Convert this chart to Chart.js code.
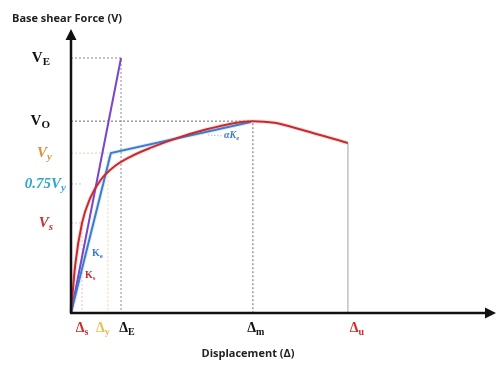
<!DOCTYPE html>
<html lang="en">
<head>
<meta charset="UTF-8">
<title>Base shear vs displacement</title>
<script src="https://cdn.jsdelivr.net/npm/chart.js"></script>
<style>
    body { margin: 0; background: #fff; }
    #wrap { width: 497px; height: 365px; }
</style>
</head>
<body>
<div id="wrap"><canvas id="pushover" width="497" height="365"></canvas></div>
<script>
// force levels: V_E, V_O, V_y, 0.75V_y, V_s
const forceMain   = ['V', 'V', 'V', '0.75V', 'V'];
const forceSubs   = ['E', 'O', 'y', 'y', 's'];
const forceLevels = [90.1, 67.8, 56.5, 45.6, 31.8];

// displacement levels: Δs, Δy, ΔE, Δm, Δu
const dispSubs   = ['s', 'y', 'E', 'm', 'u'];
const dispLevels = [2.6, 8.7, 11.8, 42.9, 65.3];

// capacity curve
const curveDisp  = [0, 1, 2.6, 4.5, 7, 10, 14, 19, 25, 32, 38, 42.9, 48, 55, 65.3];
const curveForce = [0, 17, 31.8, 40.5, 47, 51.5, 55.2, 58.5, 61.8, 64.9, 67, 67.8, 67.2, 64.5, 60.1];

// idealised bilinear curve
const bilinDisp  = [0, 9.4, 42.4];
const bilinForce = [0, 56.5, 67.5];

// elastic response line
const elasticDisp  = [0, 11.8];
const elasticForce = [0, 90.1];

const pts = (xs, ys) => xs.map((v, i) => ({ x: v, y: ys[i] }));

const RED = '#c92a2c', BLUE = '#3b7ccc', PURPLE = '#7a45c8';

function line(data, color, width, extra) {
    return Object.assign({
        data, borderColor: color, borderWidth: width, pointRadius: 0,
        showLine: true, fill: false, clip: false
    }, extra || {});
}

const [dS, dY, dE, dM, dU] = dispLevels;
const [vE, vO, vY, v75, vS] = forceLevels;

// dotted guide lines
const guides = [
    line([{x: 0, y: vE}, {x: dE, y: vE}, {x: dE, y: 0}], '#8a8a8a', 1, {borderDash: [2, 2]}),
    line([{x: 0, y: vO}, {x: dM, y: vO}, {x: dM, y: 0}], '#6a6a6a', 1, {borderDash: [2, 2]}),
    line([{x: 0, y: vY}, {x: dY, y: vY}, {x: dY, y: 0}], '#f0cfa8', 1, {borderDash: [2, 2]}),
    line([{x: 0, y: v75}, {x: dS, y: v75}], '#a8d4e4', 1, {borderDash: [2, 2]}),
    line([{x: 0, y: vS}, {x: dS, y: vS}, {x: dS, y: 0}], '#f0bcbc', 1, {borderDash: [2, 2]}),
    line([{x: dU, y: curveForce[curveForce.length - 1]}, {x: dU, y: 0}], '#c8c8c8', 1)
];

const datasets = [
    line(pts(curveDisp, curveForce), RED, 2, {cubicInterpolationMode: 'monotone'}),
    line(pts(bilinDisp, bilinForce), BLUE, 2),
    line(pts(elasticDisp, elasticForce), PURPLE, 2),
    // soft halo under the curves
    line(pts(curveDisp, curveForce), 'rgba(240,150,150,0.3)', 4, {cubicInterpolationMode: 'monotone'}),
    line(pts(bilinDisp, bilinForce), 'rgba(150,190,240,0.3)', 4),
    ...guides
];

function subText(ctx, main, sub, x, y, size, style, color, align) {
    ctx.fillStyle = color;
    ctx.textBaseline = 'middle';
    ctx.textAlign = 'left';
    const f1 = style + ' ' + size + 'px "Liberation Serif"';
    const f2 = style + ' ' + Math.round(size * 0.7) + 'px "Liberation Serif"';
    ctx.font = f1;
    const w1 = ctx.measureText(main).width;
    ctx.font = f2;
    const w2 = ctx.measureText(sub).width;
    let x0 = x;
    if (align === 'right') x0 = x - w1 - w2;
    if (align === 'center') x0 = x - (w1 + w2) / 2;
    ctx.font = f1;
    ctx.fillText(main, x0, y);
    ctx.font = f2;
    ctx.fillText(sub, x0 + w1, y + size * 0.3);
}

const annot = {
    id: 'annot',
    afterDraw(chart) {
        const { ctx, chartArea: a, scales: { x, y } } = chart;
        ctx.save();

        // axes with arrow heads
        ctx.strokeStyle = '#111';
        ctx.fillStyle = '#111';
        ctx.lineWidth = 2.5;
        ctx.beginPath();
        ctx.moveTo(a.left, a.bottom); ctx.lineTo(a.left, a.top + 8);
        ctx.moveTo(a.left - 1, a.bottom); ctx.lineTo(a.right - 8, a.bottom);
        ctx.stroke();
        ctx.beginPath();
        ctx.moveTo(a.left, a.top - 1); ctx.lineTo(a.left - 5.5, a.top + 10); ctx.lineTo(a.left + 5.5, a.top + 10); ctx.closePath();
        ctx.moveTo(a.right + 1, a.bottom); ctx.lineTo(a.right - 10, a.bottom - 5.5); ctx.lineTo(a.right - 10, a.bottom + 5.5); ctx.closePath();
        ctx.fill();

        // axis titles
        ctx.fillStyle = '#222';
        ctx.font = 'bold 11px "Open Sans"';
        ctx.textBaseline = 'middle';
        ctx.textAlign = 'left';
        ctx.fillText('Base shear Force (V)', 12, 19);
        ctx.textAlign = 'center';
        ctx.fillText('Displacement (\u0394)', 248, 354);

        // force level labels
        const fColors = ['#111', '#111', '#d8923a', '#2ea6d0', '#d02c2c'];
        const fStyle  = ['bold', 'bold', 'italic bold', 'italic bold', 'italic bold'];
        const fRight  = [50, 50, 52, 66, 53];
        forceLevels.forEach((v, i) => {
            subText(ctx, forceMain[i], forceSubs[i], fRight[i], y.getPixelForValue(v), 15, fStyle[i], fColors[i], 'right');
        });

        // displacement level labels
        const dColors = ['#d02c2c', '#e8bf5a', '#111', '#111', '#d02c2c'];
        const dShift  = [0, -5, 6, 3, 9];
        dispLevels.forEach((v, i) => {
            subText(ctx, '\u0394', dispSubs[i], x.getPixelForValue(v) + dShift[i], 328, 14, 'bold', dColors[i], 'center');
        });

        // stiffness labels
        subText(ctx, 'K', 'e', 92, 253, 10, 'bold', BLUE, 'left');
        subText(ctx, 'K', 's', 85, 275, 10, 'bold', RED, 'left');
        ctx.strokeStyle = 'rgba(120,170,230,0.7)';
        ctx.lineWidth = 1;
        ctx.setLineDash([1.5, 1.5]);
        ctx.beginPath();
        ctx.moveTo(208, 135); ctx.lineTo(223, 136);
        ctx.stroke();
        subText(ctx, '\u03b1K', 'e', 224, 135, 10, 'italic bold', BLUE, 'left');

        ctx.restore();
    }
};

new Chart(document.getElementById('pushover'), {
    type: 'scatter',
    data: { datasets },
    options: {
        responsive: false,
        animation: false,
        layout: { padding: { left: 71, right: 2, top: 30, bottom: 52 } },
        plugins: { legend: { display: false }, tooltip: { enabled: false } },
        scales: {
            x: { type: 'linear', min: 0, max: 100, display: false },
            y: { type: 'linear', min: 0, max: 100, display: false }
        }
    },
    plugins: [annot]
});
</script>
</body>
</html>
